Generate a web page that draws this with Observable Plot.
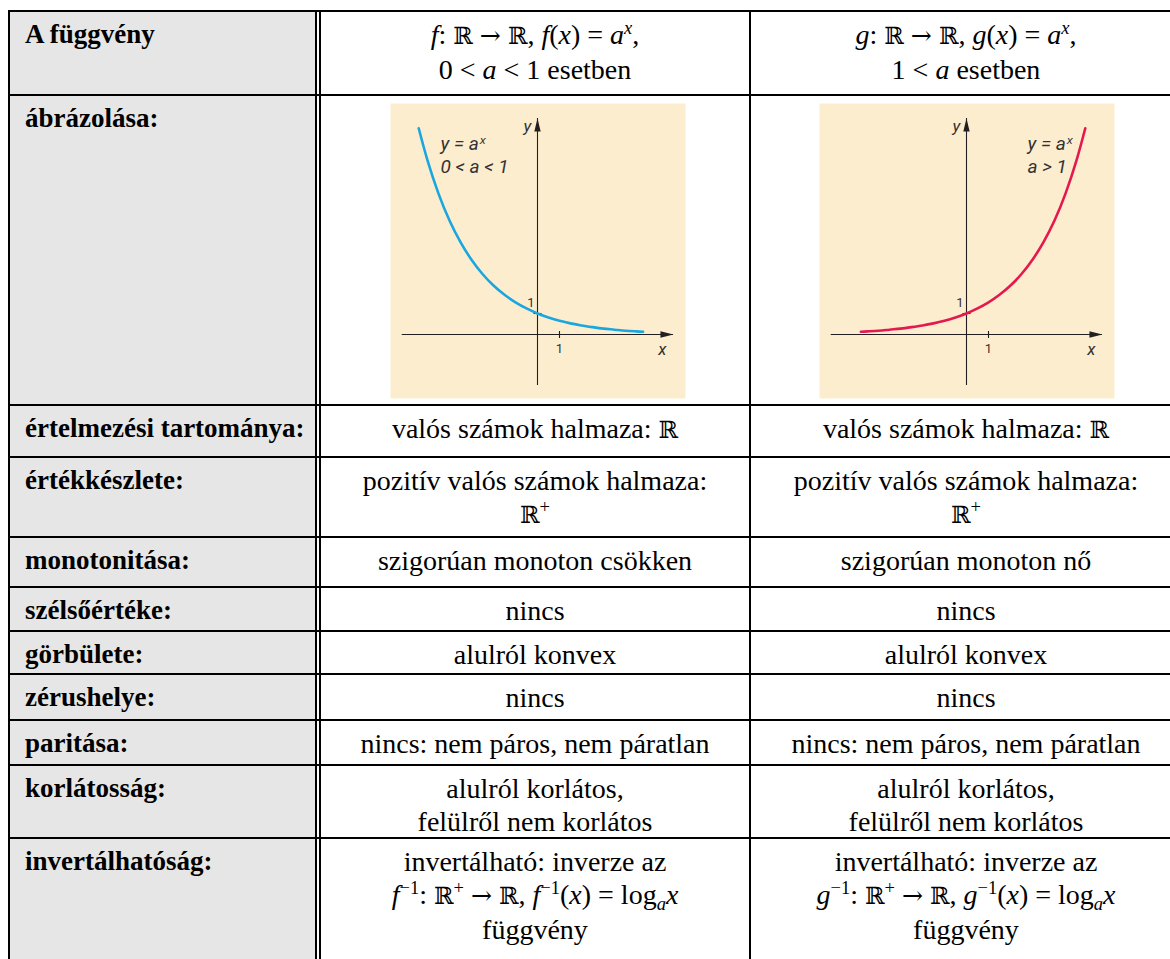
<!DOCTYPE html>
<html>
<head>
<meta charset="utf-8">
<script src="https://cdn.jsdelivr.net/npm/d3@7"></script>
<script src="https://cdn.jsdelivr.net/npm/@observablehq/plot@0.6"></script>
<style>
html, body { margin: 0; padding: 0; background: #fff; width: 1170px; height: 959px; overflow: hidden; }
#page { position: relative; width: 1170px; height: 959px; overflow: hidden; }
sup { font-size: 66%; line-height: 0; position: relative; vertical-align: baseline; top: -0.55em; }
sub { font-size: 66%; line-height: 0; position: relative; vertical-align: baseline; top: 0.3em; }
</style>
</head>
<body>
<div id="page"></div>
<script>
// ---------- table texts ----------
const rowLabels = [
  "A függvény",
  "ábrázolása:",
  "értelmezési tartománya:",
  "értékkészlete:",
  "monotonitása:",
  "szélsőértéke:",
  "görbülete:",
  "zérushelye:",
  "paritása:",
  "korlátosság:",
  "invertálhatóság:"
];
const R = '<span style="font-family:\'DejaVu Serif\',serif;font-size:0.84em">ℝ</span>';
const ARR = '<span style="font-family:\'DejaVu Serif\',serif;font-size:0.9em">→</span>';
const colF = [
  `<i>f</i>: ${R} ${ARR} ${R}, <i>f</i>(<i>x</i>) = <i>a</i><sup><i>x</i></sup>,<br>0 &lt; <i>a</i> &lt; 1 esetben`,
  "",
  `valós számok halmaza: ${R}`,
  `pozitív valós számok halmaza:<br>${R}<sup>+</sup>`,
  "szigorúan monoton csökken",
  "nincs",
  "alulról konvex",
  "nincs",
  "nincs: nem páros, nem páratlan",
  "alulról korlátos,<br>felülről nem korlátos",
  `invertálható: inverze az<br><i>f</i><sup>−1</sup>: ${R}<sup>+</sup> ${ARR} ${R}, <i>f</i><sup>−1</sup>(<i>x</i>) = log<sub><i>a</i></sub><i>x</i><br>függvény`
];
const colG = [
  `<i>g</i>: ${R} ${ARR} ${R}, <i>g</i>(<i>x</i>) = <i>a</i><sup><i>x</i></sup>,<br>1 &lt; <i>a</i> esetben`,
  "",
  `valós számok halmaza: ${R}`,
  `pozitív valós számok halmaza:<br>${R}<sup>+</sup>`,
  "szigorúan monoton nő",
  "nincs",
  "alulról konvex",
  "nincs",
  "nincs: nem páros, nem páratlan",
  "alulról korlátos,<br>felülről nem korlátos",
  `invertálható: inverze az<br><i>g</i><sup>−1</sup>: ${R}<sup>+</sup> ${ARR} ${R}, <i>g</i><sup>−1</sup>(<i>x</i>) = log<sub><i>a</i></sub><i>x</i><br>függvény`
];

// ---------- graph data (in axis units) ----------
const decX = [-5.4, -5, -4.5, -4, -3.5, -3, -2.5, -2, -1.5, -1, -0.5, 0, 0.5, 1, 1.5, 2, 2.5, 3, 3.5, 4, 4.5, 4.8];
const decY = [9.82, 8.29, 6.71, 5.43, 4.40, 3.56, 2.88, 2.33, 1.89, 1.53, 1.24, 1, 0.81, 0.655, 0.53, 0.43, 0.35, 0.28, 0.23, 0.18, 0.15, 0.13];
const incX = [-4.8, -4.5, -4, -3.5, -3, -2.5, -2, -1.5, -1, -0.5, 0, 0.5, 1, 1.5, 2, 2.5, 3, 3.5, 4, 4.5, 5, 5.4];
const incY = [0.13, 0.15, 0.18, 0.23, 0.28, 0.35, 0.43, 0.53, 0.655, 0.81, 1, 1.24, 1.53, 1.89, 2.33, 2.88, 3.56, 4.40, 5.43, 6.71, 8.29, 9.82];
const xAxisExtent = [-6.15, 6.18];
const yAxisExtent = [-2.43, 10.29];
const tickValues = [1];
const decLabel = "y = aˣ\n0 < a < 1";
const incLabel = "y = aˣ\na > 1";

// ---------- layout ----------
const page = document.getElementById("page");
const lineTops = [10, 94, 404, 456, 536, 586, 630, 673, 719, 764, 837, 1000];
const colEdges = { left: 8, dbl1: 315, dbl2: 319, mid: 749, right: 1181 };
const baseFont = {
  position: "absolute", boxSizing: "border-box", paddingTop: "6px",
  fontFamily: "'Liberation Serif', 'Times New Roman', serif",
  fontSize: "28px", lineHeight: "33px", color: "#000", whiteSpace: "nowrap"
};

function addDiv(style, html) {
  const d = document.createElement("div");
  Object.assign(d.style, style);
  if (html !== undefined) d.innerHTML = html;
  page.appendChild(d);
  return d;
}

rowLabels.forEach((lab, i) => {
  const top = lineTops[i] + 2;
  const h = lineTops[i + 1] - lineTops[i] - 2;
  addDiv({ ...baseFont, fontSize: "27px", background: "#e6e6e6", fontWeight: "bold", paddingLeft: "15px",
    left: (colEdges.left + 2) + "px", top: top + "px", width: (colEdges.dbl1 - colEdges.left - 2) + "px", height: h + "px" }, lab);
  addDiv({ ...baseFont, textAlign: "center",
    left: (colEdges.dbl2 + 2) + "px", top: top + "px", width: (colEdges.mid - colEdges.dbl2 - 2) + "px", height: h + "px" }, colF[i]);
  addDiv({ ...baseFont, textAlign: "center",
    left: (colEdges.mid + 2) + "px", top: top + "px", width: (colEdges.right - colEdges.mid - 2) + "px", height: h + "px" }, colG[i]);
});
const lineStyle = { position: "absolute", background: "#000" };
lineTops.slice(0, -1).forEach(t => addDiv({ ...lineStyle, left: colEdges.left + "px", top: t + "px", width: "1200px", height: "2px" }));
[colEdges.left, colEdges.dbl1, colEdges.dbl2, colEdges.mid].forEach(x =>
  addDiv({ ...lineStyle, left: x + "px", top: lineTops[0] + "px", width: "2px", height: "1000px" }));

// ---------- graphs ----------
const arrowRight = { draw(ctx) { ctx.moveTo(0, 0); ctx.lineTo(-13, -3.2); ctx.lineTo(-13, 3.2); ctx.closePath(); } };
const arrowUp = { draw(ctx) { ctx.moveTo(0, 0); ctx.lineTo(-3.2, 13); ctx.lineTo(3.2, 13); ctx.closePath(); } };
const tickV = { draw(ctx) { ctx.moveTo(0, -3.5); ctx.lineTo(0, 3.5); } };
const tickH = { draw(ctx) { ctx.moveTo(-4, 0); ctx.lineTo(4, 0); } };
const ink = "#231f20";
const labelFont = "Roboto, 'Noto Sans', 'Liberation Sans', sans-serif";
const labelInk = "#333";

function graph(xs, ys, color, label, labelDx) {
  const pts = xs.map((x, i) => ({ x, y: ys[i] }));
  return Plot.plot({
    width: 295, height: 295, margin: 0,
    style: { background: "transparent", overflow: "visible" },
    x: { domain: [-147 / 22, 148 / 22], axis: null },
    y: { domain: [-64 / 21, 231 / 21], axis: null },
    marks: [
      Plot.frame({ fill: "#fdedcf", stroke: "none" }),
      Plot.ruleY([{ y: 0, x1: xAxisExtent[0], x2: xAxisExtent[1] }], { y: "y", x1: "x1", x2: "x2", stroke: ink, strokeWidth: 1.1 }),
      Plot.ruleX([{ x: 0, y1: yAxisExtent[0], y2: yAxisExtent[1] }], { x: "x", y1: "y1", y2: "y2", stroke: ink, strokeWidth: 1.1 }),
      Plot.dot([{ x: xAxisExtent[1], y: 0 }], { x: "x", y: "y", symbol: arrowRight, fill: ink, stroke: "none", r: 5 }),
      Plot.dot([{ x: 0, y: yAxisExtent[1] }], { x: "x", y: "y", symbol: arrowUp, fill: ink, stroke: "none", r: 5 }),
      Plot.dot(tickValues, { x: d => d, y: 0, symbol: tickV, stroke: ink, strokeWidth: 1.1, fill: "none", r: 5 }),
      Plot.dot(tickValues, { x: 0, y: d => d, symbol: tickH, stroke: ink, strokeWidth: 1.1, fill: "none", r: 5 }),
      Plot.line(pts, { x: "x", y: "y", stroke: color, strokeWidth: 2.6, curve: "natural" }),
      Plot.text(tickValues, { x: d => d, y: 0, text: d => String(d), dy: 14, fontSize: 13, fill: labelInk, fontFamily: labelFont }),
      Plot.text(tickValues, { x: 0, y: d => d, text: d => String(d), dx: -3, dy: -11, textAnchor: "end", fontSize: 13, fill: labelInk, fontFamily: labelFont }),
      Plot.text([{ x: xAxisExtent[1], y: 0 }], { x: "x", y: "y", text: () => "x", dx: -11, dy: 15, fontSize: 17, fontStyle: "italic", fill: labelInk, fontFamily: labelFont }),
      Plot.text([{ x: 0, y: yAxisExtent[1] }], { x: "x", y: "y", text: () => "y", dx: -10, dy: 8, fontSize: 17, fontStyle: "italic", fill: labelInk, fontFamily: labelFont }),
      Plot.text([label], { text: d => d, frameAnchor: "top-left", dx: labelDx, dy: 51, textAnchor: "start", lineAnchor: "middle", lineHeight: 1.2, fontSize: 19, fontStyle: "italic", fill: labelInk, fontFamily: labelFont })
    ]
  });
}

const g1 = graph(decX, decY, "#1aa7e0", decLabel, 50);
const g2 = graph(incX, incY, "#e3194f", incLabel, 208);
[[g1, 390], [g2, 819]].forEach(([g, left]) => {
  const w = document.createElement("div");
  Object.assign(w.style, { position: "absolute", left: left + "px", top: "103px" });
  w.appendChild(g);
  page.appendChild(w);
});
</script>
</body>
</html>
